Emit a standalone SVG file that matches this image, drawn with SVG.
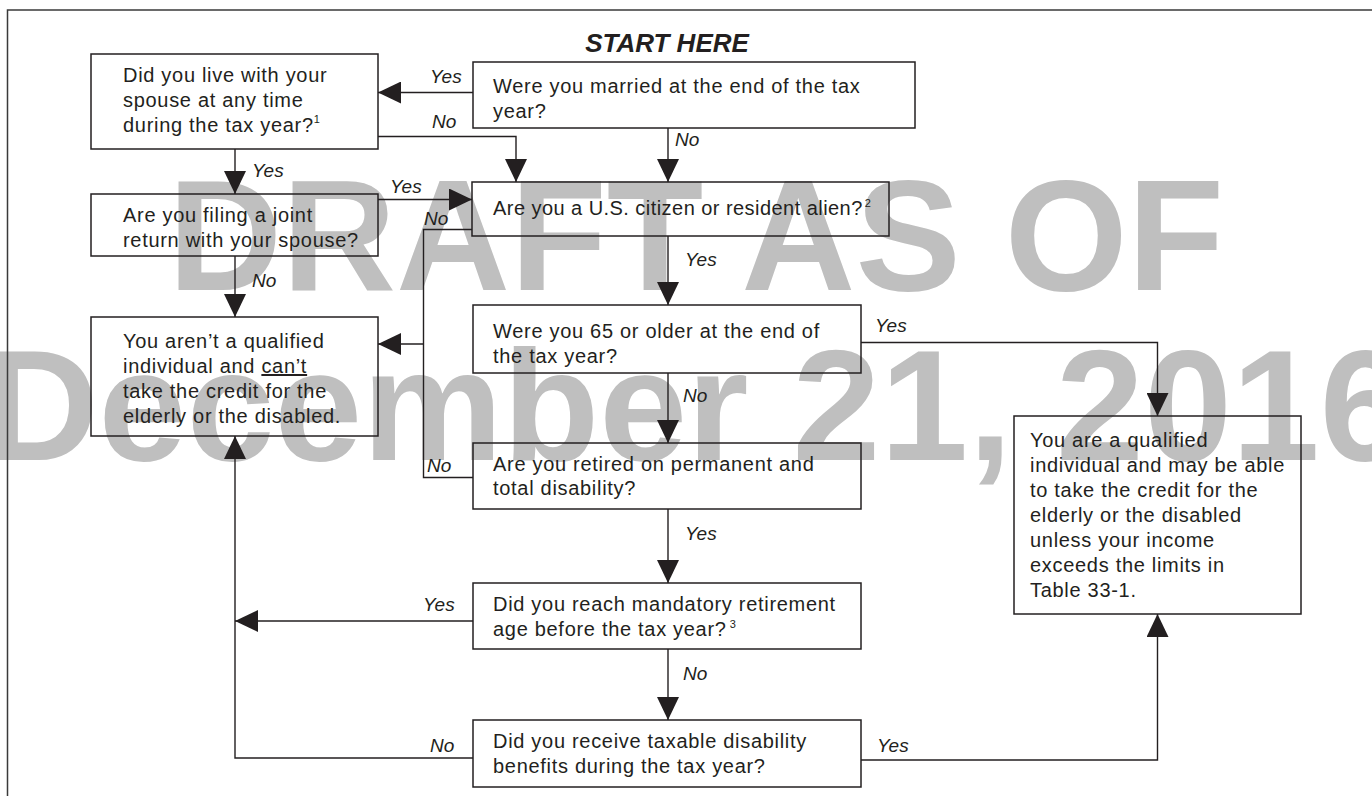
<svg xmlns="http://www.w3.org/2000/svg" width="1372" height="796" viewBox="0 0 1372 796">
<defs>
<style>
.wm{font-family:"Liberation Sans",Arial,sans-serif;font-weight:bold;font-size:158px;fill:#bfbfbf}
.box{fill:none;stroke:#231f20;stroke-width:1.5}
.t{font-family:"Liberation Sans",Arial,sans-serif;font-size:20px;fill:#231f20;letter-spacing:0.7px}
.sup{font-size:11px;letter-spacing:0}
.lbl{font-family:"Liberation Sans",Arial,sans-serif;font-style:italic;font-size:19px;fill:#231f20}
.c{fill:none;stroke:#231f20;stroke-width:1.4}
.frame{fill:none;stroke:#3a3a3a;stroke-width:1.5}
.title{font-family:"Liberation Sans",Arial,sans-serif;font-weight:bold;font-style:italic;font-size:26px;fill:#231f20}
</style>
<marker id="ah" markerUnits="userSpaceOnUse" markerWidth="23" markerHeight="22" refX="23" refY="11" orient="auto" viewBox="0 0 23 22"><path d="M0,0 L23,11 L0,22 z" fill="#231f20"/></marker>
</defs>
<rect x="0" y="0" width="1372" height="796" fill="#ffffff"/>
<g id="watermark">
<text class="wm" x="696" y="290" text-anchor="middle">DRAFT AS OF</text>
<text class="wm" x="696" y="460" text-anchor="middle">December 21, 2016</text>
</g>
<path class="frame" d="M7.5,796 V10 H1372"/>
<text class="title" x="667" y="52" text-anchor="middle">START HERE</text>
<g id="connectors">
<path class="c" d="M473,92.5 H378" marker-end="url(#ah)"/>
<path class="c" d="M378,136.5 H516 V182" marker-end="url(#ah)"/>
<path class="c" d="M668,128 V182" marker-end="url(#ah)"/>
<path class="c" d="M235,149 V194" marker-end="url(#ah)"/>
<path class="c" d="M378,199.5 H472" marker-end="url(#ah)"/>
<path class="c" d="M235,256 V317" marker-end="url(#ah)"/>
<path class="c" d="M472,229.5 H423.5 V477.5 H473"/>
<path class="c" d="M423.5,344 H378" marker-end="url(#ah)"/>
<path class="c" d="M668,236 V305" marker-end="url(#ah)"/>
<path class="c" d="M861,342.5 H1157.5 V416" marker-end="url(#ah)"/>
<path class="c" d="M668,373 V443" marker-end="url(#ah)"/>
<path class="c" d="M668,509 V583" marker-end="url(#ah)"/>
<path class="c" d="M473,621 H235" marker-end="url(#ah)"/>
<path class="c" d="M668,649 V720" marker-end="url(#ah)"/>
<path class="c" d="M473,758 H235 V436" marker-end="url(#ah)"/>
<path class="c" d="M861,760 H1157.5 V614" marker-end="url(#ah)"/>
<text class="lbl" x="430" y="83">Yes</text>
<text class="lbl" x="432" y="128">No</text>
<text class="lbl" x="675" y="146">No</text>
<text class="lbl" x="252" y="177">Yes</text>
<text class="lbl" x="390" y="193">Yes</text>
<text class="lbl" x="424" y="225">No</text>
<text class="lbl" x="252" y="287">No</text>
<text class="lbl" x="685" y="266">Yes</text>
<text class="lbl" x="875" y="332">Yes</text>
<text class="lbl" x="683" y="402">No</text>
<text class="lbl" x="427" y="472">No</text>
<text class="lbl" x="685" y="540">Yes</text>
<text class="lbl" x="423" y="611">Yes</text>
<text class="lbl" x="683" y="680">No</text>
<text class="lbl" x="430" y="752">No</text>
<text class="lbl" x="877" y="752">Yes</text>
</g>
<g id="married">
<rect class="box" x="473" y="62" width="442" height="66"/>
<text class="t" x="493" y="93">Were you married at the end of the tax</text>
<text class="t" x="493" y="118">year?</text>
</g>
<g id="livewith">
<rect class="box" x="91" y="54" width="287" height="95"/>
<text class="t" x="123" y="82">Did you live with your</text>
<text class="t" x="123" y="107">spouse at any time</text>
<text class="t" x="123" y="132">during the tax year?<tspan class="sup" dy="-9">1</tspan></text>
</g>
<g id="joint">
<rect class="box" x="91" y="194" width="287" height="62"/>
<text class="t" x="123" y="222">Are you filing a joint</text>
<text class="t" x="123" y="247">return with your spouse?</text>
</g>
<g id="notqualified">
<rect class="box" x="91" y="317" width="287" height="119"/>
<text class="t" x="123" y="348">You aren’t a qualified</text>
<text class="t" x="123" y="373">individual and <tspan style="text-decoration:underline">can’t</tspan></text>
<text class="t" x="123" y="398">take the credit for the</text>
<text class="t" x="123" y="423">elderly or the disabled.</text>
</g>
<g id="citizen">
<rect class="box" x="472" y="182" width="417" height="54"/>
<text class="t" x="493" y="215" style="letter-spacing:0.45px">Are you a U.S. citizen or resident alien?<tspan class="sup" dy="-8" dx="2">2</tspan></text>
</g>
<g id="age65">
<rect class="box" x="473" y="305" width="388" height="68"/>
<text class="t" x="493" y="338">Were you 65 or older at the end of</text>
<text class="t" x="493" y="363">the tax year?</text>
</g>
<g id="retired">
<rect class="box" x="473" y="443" width="388" height="66"/>
<text class="t" x="493" y="471">Are you retired on permanent and</text>
<text class="t" x="493" y="495">total disability?</text>
</g>
<g id="mandatory">
<rect class="box" x="473" y="583" width="388" height="66"/>
<text class="t" x="493" y="611">Did you reach mandatory retirement</text>
<text class="t" x="493" y="636">age before the tax year?<tspan class="sup" dy="-8" dx="3">3</tspan></text>
</g>
<g id="taxable">
<rect class="box" x="473" y="720" width="388" height="67"/>
<text class="t" x="493" y="748">Did you receive taxable disability</text>
<text class="t" x="493" y="773">benefits during the tax year?</text>
</g>
<g id="qualified">
<rect class="box" x="1014" y="416" width="287" height="198"/>
<text class="t" x="1030" y="447">You are a qualified</text>
<text class="t" x="1030" y="472">individual and may be able</text>
<text class="t" x="1030" y="497">to take the credit for the</text>
<text class="t" x="1030" y="522">elderly or the disabled</text>
<text class="t" x="1030" y="547">unless your income</text>
<text class="t" x="1030" y="572">exceeds the limits in</text>
<text class="t" x="1030" y="597">Table 33-1.</text>
</g>
</svg>
